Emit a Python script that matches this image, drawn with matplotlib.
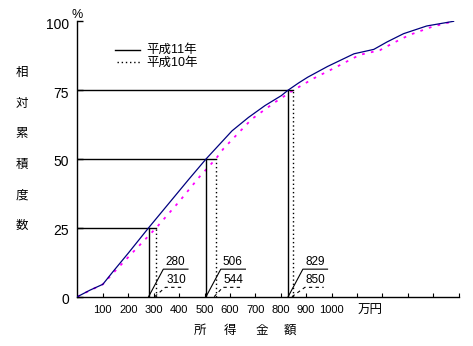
import matplotlib
matplotlib.use("Agg")
import matplotlib.pyplot as plt
import matplotlib.transforms as mtransforms

plt.rcParams['font.family'] = ['Liberation Sans', 'Noto Sans CJK JP', 'DejaVu Sans']

# 平成11年 (solid)
inc11 = [0, 50, 100, 140, 200, 280, 350, 438, 506, 608, 673, 738, 802, 829, 870, 906, 984, 1088, 1166, 1218, 1283, 1374, 1480]
cum11 = [0, 2.4, 4.5, 9.1, 15.8, 25, 32.8, 42.6, 50, 60.2, 65.1, 69.4, 73.0, 75, 77.6, 79.7, 83.6, 88.2, 89.8, 92.5, 95.5, 98.3, 100]
# 平成10年 (dotted)
inc10 = [0, 50, 100, 150, 220, 310, 400, 480, 544, 575, 686, 777, 850, 930, 1010, 1110, 1190, 1240, 1305, 1395, 1480]
cum10 = [0, 2.3, 4.5, 9.5, 16.3, 25, 34.5, 43.5, 50, 53.8, 64.5, 70.6, 75, 79.3, 83.0, 87.8, 89.5, 92.0, 95.0, 98.0, 100]

levels = [25, 50, 75]
med11 = [280, 506, 829]
med10 = [310, 544, 850]

yticks = [0, 25, 50, 75, 100]
xticks = list(range(100, 1600, 100))
xticklabels = ['100', '200', '300', '400', '500', '600', '700', '800', '900', '1000',
               '', '', '', '', '']
legend_labels = ['平成11年', '平成10年']
ylabel_chars = ['相', '対', '累', '積', '度', '数']
xlabel_chars = ['所', '得', '金', '額']

W, H = 473, 346
fig = plt.figure(figsize=(W / 100, H / 100), dpi=100)
x0, x1, y0, y1 = 77.4, 458.7, 296.7, 21.3
ax = fig.add_axes([x0 / W, (H - y0) / H, (x1 - x0) / W, (y0 - y1) / H])


def px(x, y):
    return x / W, (H - y) / H


ax.plot(inc11, cum11, color='#000080', lw=0.9, zorder=3)
ax.plot(inc10, cum10, color='#ff00ff', lw=1.3, linestyle=(0, (1.5, 3.5)), zorder=2)

for lv, a, b in zip(levels, med11, med10):
    ax.plot([0, b], [lv, lv], color='black', lw=1)
    ax.plot([a, a], [0, lv], color='black', lw=1)
    ax.plot([b, b], [0, lv], color='black', lw=1, linestyle=(0, (1, 2)))
    # label leaders
    ax.plot([a, a + 58, a + 155], [0, 10, 10], color='black', lw=0.8)
    ax.plot([b - 6, a + 66, a + 140], [0, 3.4, 3.4], color='black', lw=0.8,
            linestyle=(0, (3, 3)))
    ax.text(a + 105, 10.4, str(a), ha='center', va='bottom', fontsize=8.5)
    ax.text(a + 108, 4.0, str(b), ha='center', va='bottom', fontsize=8.5)

ax.set_xlim(0, 1500)
ax.set_ylim(0, 100)
ax.spines['top'].set_visible(False)
ax.spines['right'].set_visible(False)
ax.spines['left'].set_linewidth(1)
ax.spines['bottom'].set_linewidth(1)
ax.set_xticks(xticks)
ax.set_xticklabels(xticklabels, fontsize=8)
ax.set_yticks(yticks)
ax.set_yticklabels([str(v) for v in yticks], fontsize=10)
ax.tick_params(axis='x', direction='in', length=3, width=0.8, pad=6)
ax.tick_params(axis='y', direction='in', length=4, width=1, pad=6)
off = mtransforms.ScaledTranslation(0, -2 / 100, fig.dpi_scale_trans)
for lab in ax.get_yticklabels():
    lab.set_transform(lab.get_transform() + off)

fig.text(*px(77, 15), '%', ha='center', va='center', fontsize=9)
fig.text(*px(370, 311), '万円', ha='center', va='center', fontsize=9)

# legend
fig.add_artist(plt.Line2D([115 / W, 140 / W], [(H - 49.5) / H] * 2, color='black', lw=1))
fig.add_artist(plt.Line2D([117 / W, 140 / W], [(H - 62) / H] * 2, color='black', lw=1,
                          linestyle=(0, (1, 2))))
fig.text(*px(146, 50), legend_labels[0], ha='left', va='center', fontsize=9)
fig.text(*px(146, 63), legend_labels[1], ha='left', va='center', fontsize=9)

for i, ch in enumerate(ylabel_chars):
    fig.text(*px(21.5, 73 + 30.6 * i), ch, ha='center', va='center', fontsize=9)
for xc, ch in zip([200, 230, 262, 290], xlabel_chars):
    fig.text(*px(xc, 331), ch, ha='center', va='center', fontsize=9)

fig.savefig('out.png', dpi=100)
